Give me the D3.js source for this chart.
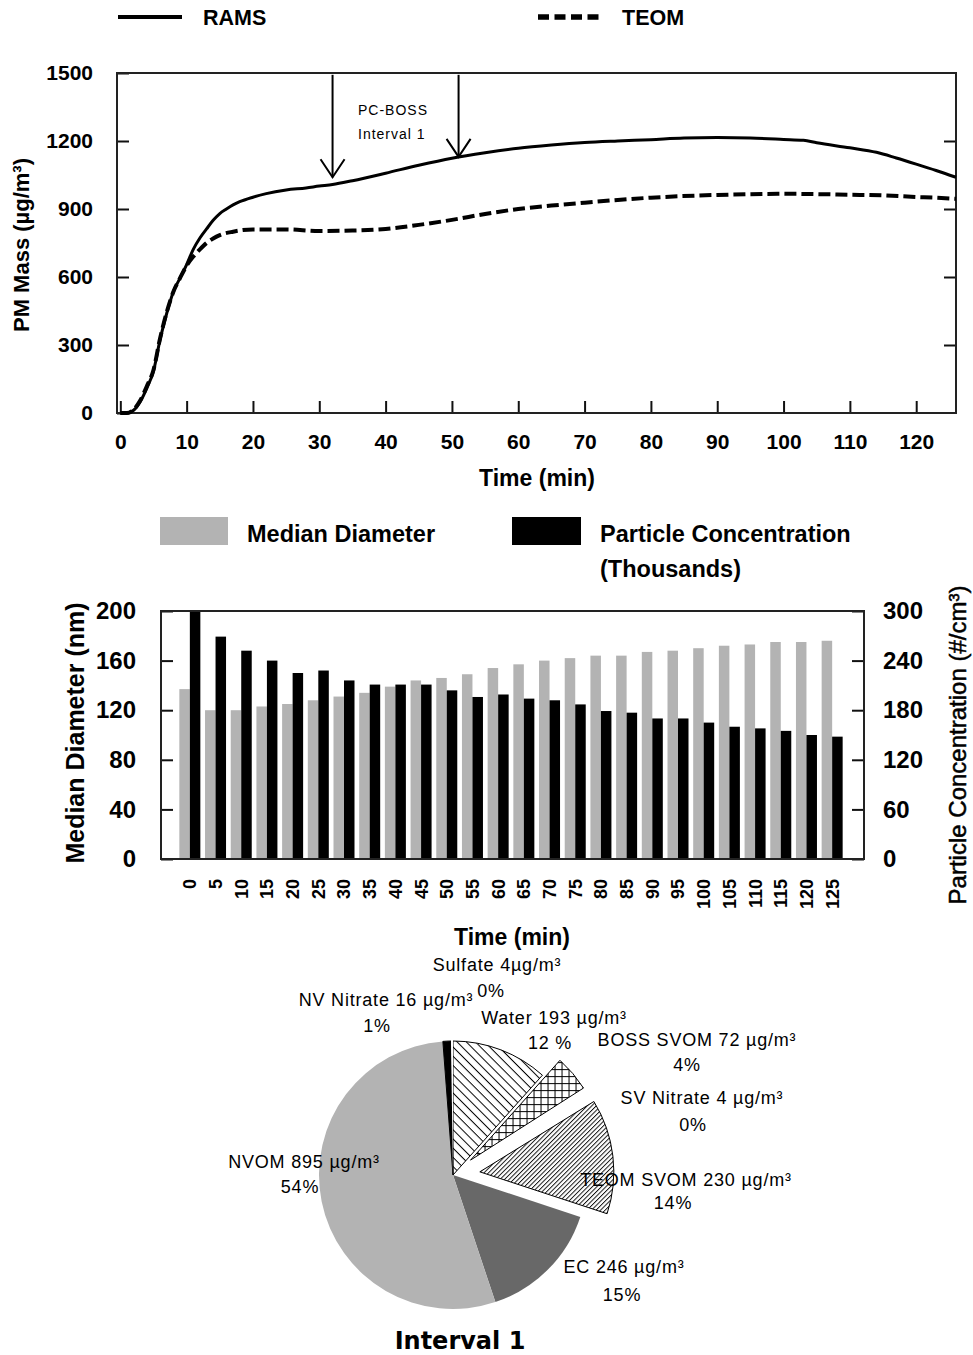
<!DOCTYPE html>
<html><head><meta charset="utf-8">
<script src="https://cdn.jsdelivr.net/npm/d3@7"></script>
<style>body{margin:0;background:#fff}svg{display:block}</style>
</head><body>
<svg id="c" width="973" height="1355"></svg>
<script>
// ---------------- DATA ----------------
const ramsTime = [0,1,2,3,4,5,6,7,8,9,10,11,12,13,14,15,16,17,18,20,22,25,28,30,32,35,40,45,50,55,60,65,70,75,80,85,90,95,100,103,105,110,114,117,120,123,126];
const ramsMass = [0,0,12,50,110,185,325,440,535,595,655,722,772,812,850,880,900,918,932,952,968,984,993,1001,1008,1025,1058,1093,1124,1148,1168,1182,1193,1200,1206,1213,1215,1213,1207,1203,1192,1170,1150,1125,1098,1070,1040];
const teomTime = [0,1,2,3,4,5,6,7,8,9,10,11,12,13,14,15,17,20,25,30,35,40,45,50,55,60,65,70,75,80,90,100,110,115,120,123,126];
const teomMass = [0,0,15,55,118,190,330,445,535,595,650,690,722,750,770,785,800,810,810,803,805,812,830,852,878,900,915,928,940,950,962,967,963,960,953,950,945];
const massTicks = [0,300,600,900,1200,1500];
const timeTicks = [0,10,20,30,40,50,60,70,80,90,100,110,120];
const arrowTimes = [32,51];
const arrowTips = [1040,1130];

const barTimes = [0,5,10,15,20,25,30,35,40,45,50,55,60,65,70,75,80,85,90,95,100,105,110,115,120,125];
const medianDiameter = [137,120,120,123,125,128,131,134,139,144,146,149,154,157,160,162,164,164,167,168,170,172,173,175,175,176];
const particleConc = [300,269,252,240,225,228,216,211,211,211,204,196,199,194,192,187,179,177,170,170,165,160,158,155,150,148];
const diamTicks = [0,40,80,120,160,200];
const concTicks = [0,60,120,180,240,300];

const pieNames = ["Water","BOSS SVOM","SV Nitrate","TEOM SVOM","EC","NVOM","NV Nitrate","Sulfate"];
const pieValues = [193,72,4,230,246,895,16,4];
const pieUnitSep = [" "," "," "," "," "," "," ",""];
const piePct = ["12 %","4%","0%","14%","15%","54%","1%","0%"];

// ---------------- LAYOUT / STYLE ----------------
const FONT = "'Liberation Sans', Arial, Helvetica, sans-serif";
const GRAY = "#b3b3b3";
const svg = d3.select("#c");
svg.append("rect").attr("width",973).attr("height",1355).attr("fill","#fff");
const fmt = d3.format("d");

// ======== TOP CHART ========
const x1 = d3.scaleLinear().domain([-0.5,126]).range([117,956]);
const y1 = d3.scaleLinear().domain([0,1500]).range([413,73]);
const g1 = svg.append("g");

g1.append("g").attr("transform","translate(0,413)")
  .call(d3.axisBottom(x1).tickValues(timeTicks).tickFormat(fmt).tickSize(-12).tickSizeOuter(0).tickPadding(21))
  .call(g=>g.select(".domain").remove());
g1.append("g").attr("transform","translate(117,0)")
  .call(d3.axisLeft(y1).tickValues(massTicks).tickFormat(fmt).tickSize(-12).tickSizeOuter(0).tickPadding(24))
  .call(g=>g.select(".domain").remove());
g1.append("g").attr("transform","translate(956,0)")
  .call(d3.axisRight(y1).tickValues(massTicks.slice(1,-1)).tickSize(-12).tickSizeOuter(0).tickFormat(""))
  .call(g=>g.select(".domain").remove());
g1.selectAll(".tick line").attr("stroke","#111").attr("stroke-width",2);
g1.selectAll(".tick text").attr("font-family",FONT).attr("font-weight","bold").attr("font-size",21).attr("fill","#000");
g1.append("rect").attr("x",117).attr("y",73).attr("width",839).attr("height",340)
  .attr("fill","none").attr("stroke","#222").attr("stroke-width",2);

const line = d3.line().x(d=>x1(d[0])).y(d=>y1(d[1])).curve(d3.curveMonotoneX);
g1.append("path").datum(ramsTime.map((t,i)=>[t,ramsMass[i]])).attr("d",line)
  .attr("fill","none").attr("stroke","#000").attr("stroke-width",3);
g1.append("path").datum(teomTime.map((t,i)=>[t,teomMass[i]])).attr("d",line)
  .attr("fill","none").attr("stroke","#000").attr("stroke-width",4).attr("stroke-dasharray","12,5");

// arrows
arrowTimes.forEach((t,i)=>{
  const ax = x1(t), ay = y1(arrowTips[i]);
  g1.append("line").attr("x1",ax).attr("x2",ax).attr("y1",y1(1492)).attr("y2",ay)
    .attr("stroke","#000").attr("stroke-width",2);
  g1.append("path").attr("d",`M${ax-12},${ay-18}L${ax},${ay}L${ax+12},${ay-18}`)
    .attr("fill","none").attr("stroke","#000").attr("stroke-width",2);
});
g1.append("text").attr("x",358).attr("y",115).text("PC-BOSS")
  .attr("font-family",FONT).attr("font-size",14).attr("letter-spacing",1);
g1.append("text").attr("x",358).attr("y",139).text("Interval 1")
  .attr("font-family",FONT).attr("font-size",14).attr("letter-spacing",1);

g1.append("text").attr("x",537).attr("y",486).attr("text-anchor","middle").text("Time (min)")
  .attr("font-family",FONT).attr("font-weight","bold").attr("font-size",23);
g1.append("text").attr("transform","translate(29,245) rotate(-90)").attr("text-anchor","middle")
  .text("PM Mass (µg/m³)").attr("font-family",FONT).attr("font-weight","bold").attr("font-size",22);

// top legend
g1.append("line").attr("x1",118).attr("x2",182).attr("y1",17).attr("y2",17).attr("stroke","#000").attr("stroke-width",4);
g1.append("text").attr("x",203).attr("y",25).text("RAMS").attr("font-family",FONT).attr("font-weight","bold").attr("font-size",21.5);
g1.append("line").attr("x1",538).attr("x2",603).attr("y1",17).attr("y2",17).attr("stroke","#000").attr("stroke-width",5.5).attr("stroke-dasharray","11,5.5");
g1.append("text").attr("x",622).attr("y",25).text("TEOM").attr("font-family",FONT).attr("font-weight","bold").attr("font-size",21.5);

// ======== BAR CHART ========
const xb = d3.scaleBand().domain(barTimes).range([177,845]);
const yl = d3.scaleLinear().domain([0,200]).range([859,611]);
const yr = d3.scaleLinear().domain([0,300]).range([859,611]);
const g2 = svg.append("g");
const bw = 10.5;
g2.selectAll("rect.md").data(barTimes).join("rect").attr("class","md")
  .attr("x",d=>xb(d)+xb.bandwidth()/2-bw).attr("width",bw)
  .attr("y",(d,i)=>yl(medianDiameter[i])).attr("height",(d,i)=>yl(0)-yl(medianDiameter[i]))
  .attr("fill",GRAY);
g2.selectAll("rect.pc").data(barTimes).join("rect").attr("class","pc")
  .attr("x",d=>xb(d)+xb.bandwidth()/2).attr("width",bw)
  .attr("y",(d,i)=>yr(particleConc[i])).attr("height",(d,i)=>yr(0)-yr(particleConc[i]))
  .attr("fill","#000");

g2.append("g").attr("transform","translate(161,0)")
  .call(d3.axisLeft(yl).tickValues(diamTicks).tickFormat(fmt).tickSize(-12).tickSizeOuter(0).tickPadding(25))
  .call(g=>g.select(".domain").remove());
g2.append("g").attr("transform","translate(864,0)")
  .call(d3.axisRight(yr).tickValues(concTicks).tickFormat(fmt).tickSize(-12).tickSizeOuter(0).tickPadding(19))
  .call(g=>g.select(".domain").remove());
g2.selectAll(".tick line").attr("stroke","#111").attr("stroke-width",2);
g2.selectAll(".tick text").attr("font-family",FONT).attr("font-weight","bold").attr("font-size",24).attr("fill","#000");
g2.append("rect").attr("x",161).attr("y",611).attr("width",703).attr("height",248)
  .attr("fill","none").attr("stroke","#222").attr("stroke-width",2);

g2.selectAll("text.xl").data(barTimes).join("text").attr("class","xl")
  .attr("transform",d=>`translate(${xb(d)+xb.bandwidth()/2},879) rotate(-90)`)
  .attr("text-anchor","end").attr("dy","0.36em").text(d=>d)
  .attr("font-family",FONT).attr("font-weight","bold").attr("font-size",18);

g2.append("text").attr("x",512).attr("y",945).attr("text-anchor","middle").text("Time (min)")
  .attr("font-family",FONT).attr("font-weight","bold").attr("font-size",23);
g2.append("text").attr("transform","translate(84,733) rotate(-90)").attr("text-anchor","middle")
  .text("Median Diameter (nm)").attr("font-family",FONT).attr("font-weight","bold").attr("font-size",25);
g2.append("text").attr("transform","translate(966,745) rotate(-90)").attr("text-anchor","middle")
  .text("Particle Concentration (#/cm³)").attr("font-family",FONT).attr("font-size",24)
  .attr("stroke","#000").attr("stroke-width",0.5);

// bar legend
g2.append("rect").attr("x",160).attr("y",517).attr("width",68).attr("height",28).attr("fill",GRAY);
g2.append("text").attr("x",247).attr("y",542).text("Median Diameter").attr("font-family",FONT).attr("font-weight","bold").attr("font-size",23.5);
g2.append("rect").attr("x",512).attr("y",517).attr("width",69).attr("height",28).attr("fill","#000");
g2.append("text").attr("x",600).attr("y",542).text("Particle Concentration").attr("font-family",FONT).attr("font-weight","bold").attr("font-size",23.5);
g2.append("text").attr("x",600).attr("y",577).text("(Thousands)").attr("font-family",FONT).attr("font-weight","bold").attr("font-size",23.5);

// ======== PIE ========
const defs = svg.append("defs");
const pWater = defs.append("pattern").attr("id","pWater").attr("patternUnits","userSpaceOnUse")
  .attr("width",6.5).attr("height",6.5).attr("patternTransform","rotate(45)");
pWater.append("rect").attr("width",6.5).attr("height",6.5).attr("fill","#fff");
pWater.append("line").attr("x1",0).attr("x2",6.5).attr("y1",0.5).attr("y2",0.5).attr("stroke","#000").attr("stroke-width",1);
const pTeom = defs.append("pattern").attr("id","pTeom").attr("patternUnits","userSpaceOnUse")
  .attr("width",3.2).attr("height",3.2).attr("patternTransform","rotate(-45)");
pTeom.append("rect").attr("width",3.2).attr("height",3.2).attr("fill","#fff");
pTeom.append("line").attr("x1",0).attr("x2",3.2).attr("y1",0.5).attr("y2",0.5).attr("stroke","#000").attr("stroke-width",0.9);
const pBoss = defs.append("pattern").attr("id","pBoss").attr("patternUnits","userSpaceOnUse")
  .attr("width",7).attr("height",7);
pBoss.append("rect").attr("width",7).attr("height",7).attr("fill","#fff");
pBoss.append("path").attr("d","M0,0.5H7M0.5,0V7").attr("stroke","#000").attr("stroke-width",1);

const pieFill = ["url(#pWater)","url(#pBoss)","#fff","url(#pTeom)","#686868",GRAY,"#000","#fff"];
const pieStroke = ["#000","#000","none","#000","none","none","#000","none"];
const pieExplode = [0,23,25,27,0,0,0,0];
const cx = 453, cy = 1175, R = 134;
const arcs = d3.pie().sort(null).startAngle(0).endAngle(2*Math.PI)(pieValues);
const arcGen = d3.arc().innerRadius(0).outerRadius(R);
const g3 = svg.append("g").attr("transform",`translate(${cx},${cy})`);
g3.selectAll("path").data(arcs).join("path")
  .attr("d",arcGen)
  .attr("transform",(d,i)=>{const a=(d.startAngle+d.endAngle)/2;return `translate(${pieExplode[i]*Math.sin(a)},${-pieExplode[i]*Math.cos(a)})`;})
  .attr("fill",(d,i)=>pieFill[i]).attr("stroke",(d,i)=>pieStroke[i]).attr("stroke-width",1);

// label anchors relative to pie centre (layout)
const labelPos = [[101,-157,97,-132],[244,-135,234,-110],[249,-77,240,-50],[233,5,220,28],
                  [171,92,169,120],[-149,-13,-153,12],[-67,-175,-76,-149],[44,-210,38,-184]];
pieNames.forEach((n,i)=>{
  const p = labelPos[i];
  g3.append("text").attr("x",p[0]).attr("y",p[1]).attr("dy","0.36em").attr("text-anchor","middle")
    .text(`${n} ${pieValues[i]}${pieUnitSep[i]}µg/m³`)
    .attr("font-family",FONT).attr("font-size",18).attr("letter-spacing",0.8);
  g3.append("text").attr("x",p[2]).attr("y",p[3]).attr("dy","0.36em").attr("text-anchor","middle")
    .text(piePct[i]).attr("font-family",FONT).attr("font-size",18).attr("letter-spacing",0.8);
});
svg.append("text").attr("x",460).attr("y",1349).attr("text-anchor","middle").text("Interval 1")
  .attr("font-family","'DejaVu Sans', Verdana, sans-serif").attr("font-weight","bold").attr("font-size",24);
</script>
</body></html>
